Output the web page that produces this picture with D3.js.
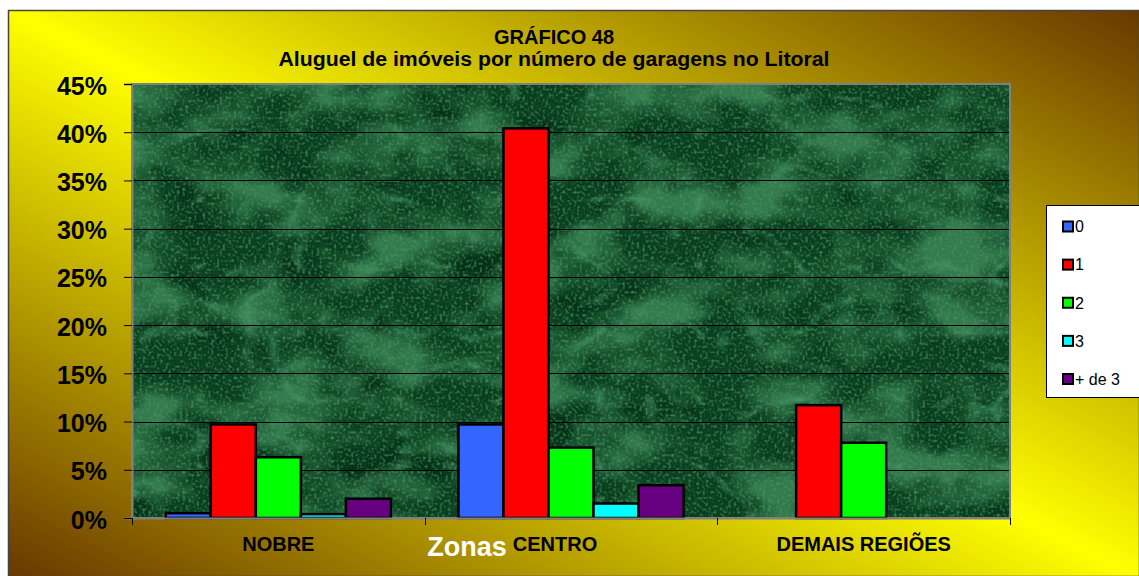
<!DOCTYPE html>
<html>
<head>
<meta charset="utf-8">
<script src="https://cdn.jsdelivr.net/npm/d3@7"></script>
<style>
  body { margin: 0; background: #fff; }
  svg { display: block; font-family: Arial, "Liberation Sans", sans-serif; }
</style>
</head>
<body>
<svg id="chart"></svg>
<script>
const zonas = ["NOBRE", "CENTRO", "DEMAIS REGIÕES"];
const series = ["0", "1", "2", "3", "+ de 3"];
const colors = ["#3366ff", "#ff0000", "#00ff00", "#00ffff", "#660080"];
// percent values per series, one value per zona
const v0 = [0.5, 9.7, 0];
const v1 = [9.7, 40.4, 11.7];
const v2 = [6.3, 7.3, 7.8];
const v3 = [0.4, 1.5, 0];
const v4 = [2.0, 3.4, 0];
const yTicks = [0, 5, 10, 15, 20, 25, 30, 35, 40, 45];

const values = [v0, v1, v2, v3, v4];
const width = 1139, height = 576;
const margin = {top: 84, right: 129, bottom: 58, left: 132};

const svg = d3.select("#chart")
  .attr("width", width)
  .attr("height", height);

const defs = svg.append("defs");

const bg = defs.append("linearGradient")
  .attr("id", "bg")
  .attr("x1", 1).attr("y1", 0).attr("x2", 0).attr("y2", 1);
bg.append("stop").attr("offset", "0%").attr("stop-color", "#683800");
bg.append("stop").attr("offset", "50%").attr("stop-color", "#ffff00");
bg.append("stop").attr("offset", "100%").attr("stop-color", "#683800");

// marble texture for the plot area
const marble = defs.append("filter")
  .attr("id", "marble")
  .attr("color-interpolation-filters", "sRGB")
  .attr("x", 0).attr("y", 0).attr("width", 1).attr("height", 1);
marble.append("feTurbulence")
  .attr("type", "fractalNoise")
  .attr("baseFrequency", "0.012 0.018")
  .attr("numOctaves", 4)
  .attr("seed", 11)
  .attr("result", "cloud");
marble.append("feColorMatrix")
  .attr("in", "cloud")
  .attr("type", "matrix")
  .attr("values", "0 0 0 0 0.20  0 0 0 0 0.48  0 0 0 0 0.30  3.2 0 0 0 -1.3")
  .attr("result", "cloudCol");
marble.append("feColorMatrix")
  .attr("in", "cloud")
  .attr("type", "matrix")
  .attr("values", "0 0 0 0 0.0  0 0 0 0 0.15  0 0 0 0 0.05  0 -3 0 0 1.35")
  .attr("result", "darkCol");
marble.append("feTurbulence")
  .attr("type", "turbulence")
  .attr("baseFrequency", "0.01 0.015")
  .attr("numOctaves", 3)
  .attr("seed", 5)
  .attr("result", "veins");
marble.append("feColorMatrix")
  .attr("in", "veins")
  .attr("type", "matrix")
  .attr("values", "0 0 0 0 0.32  0 0 0 0 0.64  0 0 0 0 0.45  -3.5 0 0 0 0.5")
  .attr("result", "veinCol");
marble.append("feTurbulence")
  .attr("type", "fractalNoise")
  .attr("baseFrequency", "0.35")
  .attr("numOctaves", 1)
  .attr("seed", 3)
  .attr("result", "speck");
marble.append("feColorMatrix")
  .attr("in", "speck")
  .attr("type", "matrix")
  .attr("values", "0 0 0 0 0.28  0 0 0 0 0.58  0 0 0 0 0.40  2.4 0 0 0 -1.15")
  .attr("result", "speckCol");
const merge = marble.append("feMerge");
merge.append("feMergeNode").attr("in", "darkCol");
merge.append("feMergeNode").attr("in", "cloudCol");
merge.append("feMergeNode").attr("in", "veinCol");
merge.append("feMergeNode").attr("in", "speckCol");

// chart area background
svg.append("rect")
  .attr("x", 8.5).attr("y", 10.5)
  .attr("width", width - 8).attr("height", height - 10)
  .attr("fill", "url(#bg)")
  .attr("stroke", "#444")
  .attr("stroke-width", 1.5);

const x0 = d3.scaleBand()
  .domain(zonas)
  .range([margin.left, width - margin.right]);

const x1 = d3.scaleBand()
  .domain(series)
  .range([0, x0.bandwidth()])
  .paddingOuter(0.75);

const y = d3.scaleLinear()
  .domain([0, 45])
  .range([height - margin.bottom, margin.top]);

const plotW = width - margin.right - margin.left;
const plotH = height - margin.bottom - margin.top;

svg.append("rect")
  .attr("x", margin.left).attr("y", margin.top)
  .attr("width", plotW).attr("height", plotH)
  .attr("fill", "#0a3f1e");
svg.append("rect")
  .attr("x", margin.left).attr("y", margin.top)
  .attr("width", plotW).attr("height", plotH)
  .attr("filter", "url(#marble)");

// gridlines
svg.append("g")
  .selectAll("line")
  .data(yTicks.slice(1, -1))
  .join("line")
  .attr("x1", margin.left).attr("x2", width - margin.right)
  .attr("y1", d => Math.round(y(d)) + 0.5)
  .attr("y2", d => Math.round(y(d)) + 0.5)
  .attr("stroke", "#000")
  .attr("stroke-width", 1);

// plot border (top/right gray)
svg.append("rect")
  .attr("x", margin.left).attr("y", margin.top)
  .attr("width", plotW).attr("height", plotH)
  .attr("fill", "none")
  .attr("stroke", "#808080")
  .attr("stroke-width", 2);

// bars
const groups = svg.append("g")
  .selectAll("g")
  .data(zonas)
  .join("g")
  .attr("transform", d => "translate(" + x0(d) + ",0)");

groups.selectAll("rect")
  .data((z, zi) => series.map((s, si) => ({s: s, si: si, v: values[si][zi]})).filter(d => d.v > 0))
  .join("rect")
  .attr("x", d => x1(d.s))
  .attr("width", x1.bandwidth())
  .attr("y", d => y(d.v))
  .attr("height", d => y(0) - y(d.v))
  .attr("fill", d => colors[d.si])
  .attr("stroke", "#000")
  .attr("stroke-width", 2.5);

// y axis
const yAxis = d3.axisLeft(y)
  .tickValues(yTicks)
  .tickFormat(d => d + "%")
  .tickSize(8)
  .tickPadding(17);

const gy = svg.append("g")
  .attr("transform", "translate(" + margin.left + ",0)")
  .call(yAxis);
gy.select(".domain").attr("stroke", "#808080").attr("stroke-width", 2);
gy.selectAll(".tick line").attr("stroke", "#000");
gy.selectAll("text")
  .attr("fill", "#000")
  .attr("font-size", "25px")
  .attr("font-weight", "bold")
  .attr("font-family", "Arial, 'Liberation Sans', sans-serif")
  .attr("dy", "0.4em");

// x axis
const xAxis = d3.axisBottom(x0)
  .tickSize(0)
  .tickPadding(19);

const gx = svg.append("g")
  .attr("transform", "translate(0," + y(0) + ")")
  .call(xAxis);
gx.select(".domain").attr("stroke", "#808080").attr("stroke-width", 2);
gx.selectAll("text")
  .attr("fill", "#000")
  .attr("font-size", "20px")
  .attr("font-weight", "bold")
  .attr("font-family", "Arial, 'Liberation Sans', sans-serif")
  .attr("dx", d => d === "CENTRO" ? -16 : 0);

// category boundary ticks
svg.append("g")
  .selectAll("line")
  .data(zonas.map(z => x0(z)).concat([width - margin.right]))
  .join("line")
  .attr("x1", d => Math.round(d) + 0.5).attr("x2", d => Math.round(d) + 0.5)
  .attr("y1", y(0)).attr("y2", y(0) + 7)
  .attr("stroke", "#000");

// titles
svg.append("text")
  .attr("x", 554).attr("y", 44)
  .attr("text-anchor", "middle")
  .attr("font-size", "20px")
  .attr("font-weight", "bold")
  .text("GRÁFICO 48");

svg.append("text")
  .attr("x", 554).attr("y", 66)
  .attr("text-anchor", "middle")
  .attr("font-size", "20px")
  .attr("font-weight", "bold")
  .attr("textLength", 551)
  .attr("lengthAdjust", "spacingAndGlyphs")
  .text("Aluguel de imóveis por número de garagens no Litoral");

svg.append("text")
  .attr("x", 467).attr("y", 556)
  .attr("text-anchor", "middle")
  .attr("font-size", "27px")
  .attr("font-weight", "bold")
  .attr("fill", "#fff")
  .text("Zonas");

// legend
const legend = svg.append("g").attr("transform", "translate(1046,205)");
legend.append("rect")
  .attr("x", 0.5).attr("y", 0.5)
  .attr("width", 120).attr("height", 192)
  .attr("fill", "#fff")
  .attr("stroke", "#000");

const ly = d3.scalePoint()
  .domain(series)
  .range([21.5, 174]);

const items = legend.selectAll("g.item")
  .data(series)
  .join("g")
  .attr("class", "item")
  .attr("transform", d => "translate(0," + ly(d) + ")");
items.append("rect")
  .attr("x", 17).attr("y", -5)
  .attr("width", 10).attr("height", 10)
  .attr("fill", (d, i) => colors[i])
  .attr("stroke", "#000")
  .attr("stroke-width", 2);
items.append("text")
  .attr("x", 29).attr("y", 0)
  .attr("dy", "0.36em")
  .attr("font-size", "16px")
  .text(d => d);
</script>
</body>
</html>
